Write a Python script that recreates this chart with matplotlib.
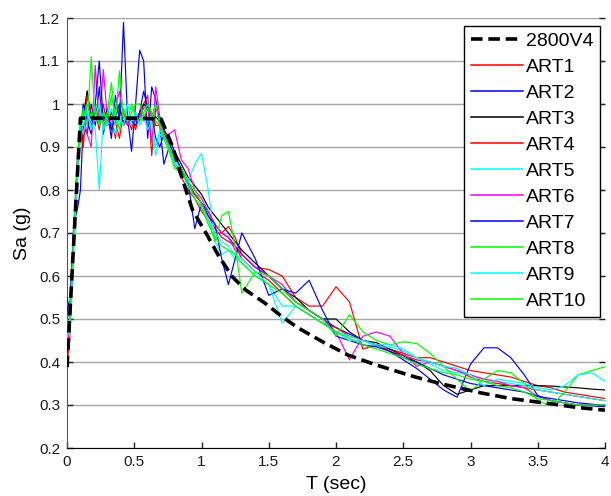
import matplotlib
matplotlib.use("Agg")
import matplotlib.pyplot as plt

plt.rcParams['font.family'] = ['Liberation Sans', 'DejaVu Sans']

# Design spectrum (2800 V4)
T_code = [0, 0.1, 0.3, 0.5, 0.7, 0.786, 0.86, 0.934, 1.033, 1.131, 1.23, 1.33,
          1.476, 1.6, 1.72, 1.9, 2.09, 2.3, 2.59, 2.8, 3.08, 3.3, 3.57, 3.8, 4.0]
Sa_code = [0.388, 0.967, 0.967, 0.967, 0.965, 0.90, 0.823, 0.753, 0.70, 0.645, 0.598, 0.567,
           0.536, 0.505, 0.479, 0.447, 0.416, 0.393, 0.365, 0.348, 0.328, 0.315, 0.304, 0.294, 0.288]

# Common period grid for the artificial records
T = [0, 0.02, 0.05, 0.08, 0.1, 0.12, 0.15, 0.18, 0.21, 0.24, 0.27, 0.3, 0.33, 0.36, 0.39,
     0.42, 0.45, 0.48, 0.51, 0.54, 0.57, 0.6, 0.63, 0.66, 0.69, 0.72, 0.76, 0.8, 0.85, 0.9,
     0.95, 1.0, 1.05, 1.1, 1.15, 1.2, 1.25, 1.3, 1.4, 1.5, 1.6, 1.7, 1.8, 1.9, 2.0, 2.1, 2.2,
     2.3, 2.4, 2.5, 2.6, 2.7, 2.8, 2.9, 3.0, 3.1, 3.2, 3.3, 3.4, 3.5, 3.6, 3.7, 3.8, 3.9, 4.0]

art1 = [0.40, 0.47, 0.70, 0.85, 0.93, 0.90, 1.03, 0.95, 0.98, 0.94, 1.00, 0.95, 0.97, 0.92, 0.99,
        0.95, 0.97, 0.94, 0.98, 0.96, 1.00, 1.02, 0.88, 0.99, 0.97, 0.94, 0.90, 0.86, 0.83, 0.80,
        0.78, 0.75, 0.73, 0.70, 0.70, 0.715, 0.69, 0.65, 0.62, 0.615, 0.60, 0.55, 0.53, 0.53, 0.575,
        0.54, 0.43, 0.44, 0.43, 0.42, 0.41, 0.41, 0.40, 0.39, 0.38, 0.375, 0.37, 0.365, 0.355, 0.345,
        0.34, 0.33, 0.325, 0.32, 0.315]
art2 = [0.53, 0.50, 0.72, 0.76, 0.80, 0.95, 0.93, 1.00, 0.95, 1.04, 0.93, 0.98, 0.92, 1.02, 0.96,
        1.19, 0.97, 0.89, 1.00, 1.125, 1.10, 0.92, 1.04, 1.01, 0.95, 0.86, 0.90, 0.87, 0.85, 0.81,
        0.79, 0.77, 0.75, 0.72, 0.70, 0.69, 0.67, 0.65, 0.62, 0.60, 0.57, 0.54, 0.52, 0.50, 0.48,
        0.465, 0.45, 0.44, 0.425, 0.405, 0.385, 0.36, 0.335, 0.318, 0.395, 0.433, 0.433, 0.41, 0.37, 0.322,
        0.31, 0.305, 0.30, 0.298, 0.296]
art3 = [0.42, 0.48, 0.70, 0.87, 0.94, 0.97, 1.03, 0.96, 0.99, 0.96, 0.97, 0.95, 0.98, 0.96, 0.97,
        0.96, 0.97, 0.97, 0.96, 0.98, 1.00, 0.99, 0.97, 0.97, 0.96, 0.94, 0.92, 0.89, 0.86, 0.83,
        0.81, 0.79, 0.76, 0.74, 0.72, 0.70, 0.68, 0.66, 0.63, 0.60, 0.57, 0.55, 0.52, 0.50, 0.50,
        0.47, 0.45, 0.445, 0.43, 0.415, 0.40, 0.38, 0.345, 0.325, 0.335, 0.345, 0.345, 0.345, 0.345, 0.345,
        0.344, 0.342, 0.34, 0.337, 0.335]
art4 = [0.40, 0.45, 0.68, 0.86, 0.96, 0.90, 1.02, 0.98, 0.96, 0.99, 0.95, 0.97, 0.94, 0.96, 0.92,
        0.98, 0.95, 0.97, 0.94, 0.98, 0.96, 0.99, 0.98, 0.95, 0.95, 0.93, 0.90, 0.86, 0.84, 0.82,
        0.79, 0.77, 0.74, 0.71, 0.69, 0.68, 0.67, 0.64, 0.61, 0.59, 0.56, 0.53, 0.51, 0.49, 0.48,
        0.46, 0.45, 0.44, 0.425, 0.415, 0.405, 0.40, 0.39, 0.38, 0.365, 0.355, 0.35, 0.345, 0.34, 0.335,
        0.33, 0.325, 0.32, 0.315, 0.31]
art5 = [0.45, 0.50, 0.70, 0.86, 0.95, 0.93, 0.98, 0.96, 0.94, 0.80, 0.97, 0.95, 0.97, 0.93, 0.96,
        0.99, 0.97, 0.95, 0.98, 0.97, 0.96, 0.97, 0.95, 0.88, 0.93, 0.92, 0.90, 0.87, 0.85, 0.82,
        0.86, 0.885, 0.80, 0.68, 0.65, 0.66, 0.64, 0.63, 0.60, 0.58, 0.53, 0.53, 0.51, 0.49, 0.47,
        0.46, 0.45, 0.435, 0.435, 0.425, 0.41, 0.395, 0.38, 0.375, 0.37, 0.36, 0.355, 0.35, 0.345, 0.335,
        0.33, 0.325, 0.32, 0.315, 0.31]
art6 = [0.43, 0.48, 0.72, 0.89, 0.94, 0.98, 0.93, 0.90, 1.09, 0.95, 1.08, 0.97, 0.95, 0.99, 1.03,
        0.97, 0.95, 0.97, 0.96, 0.97, 0.99, 1.00, 0.91, 1.04, 0.97, 0.93, 0.93, 0.94, 0.87, 0.85,
        0.80, 0.78, 0.75, 0.72, 0.70, 0.69, 0.66, 0.65, 0.62, 0.60, 0.58, 0.54, 0.52, 0.50, 0.47,
        0.405, 0.46, 0.47, 0.46, 0.42, 0.39, 0.40, 0.39, 0.38, 0.37, 0.36, 0.355, 0.345, 0.34, 0.32,
        0.31, 0.305, 0.30, 0.30, 0.30]
art7 = [0.55, 0.52, 0.70, 0.88, 0.93, 1.00, 0.96, 0.93, 1.00, 1.10, 0.96, 0.99, 0.94, 0.97, 1.00,
        0.95, 0.97, 0.96, 0.95, 0.98, 1.03, 0.99, 0.97, 0.92, 0.90, 0.93, 0.91, 0.88, 0.85, 0.82,
        0.71, 0.77, 0.74, 0.72, 0.64, 0.58, 0.64, 0.70, 0.64, 0.555, 0.57, 0.56, 0.59, 0.52, 0.46,
        0.45, 0.44, 0.435, 0.425, 0.41, 0.40, 0.385, 0.37, 0.36, 0.35, 0.345, 0.34, 0.335, 0.33, 0.32,
        0.315, 0.31, 0.305, 0.302, 0.298]
art8 = [0.50, 0.47, 0.66, 0.85, 0.93, 0.99, 0.95, 1.11, 0.96, 1.00, 0.94, 0.98, 1.05, 0.96, 1.077,
        0.97, 0.96, 0.98, 1.00, 1.00, 0.97, 0.99, 0.97, 1.00, 0.95, 0.93, 0.90, 0.86, 0.85, 0.82,
        0.80, 0.77, 0.73, 0.68, 0.74, 0.75, 0.67, 0.56, 0.61, 0.60, 0.57, 0.54, 0.52, 0.50, 0.46,
        0.51, 0.47, 0.45, 0.44, 0.447, 0.443, 0.42, 0.39, 0.36, 0.332, 0.36, 0.38, 0.375, 0.35, 0.31,
        0.298, 0.33, 0.37, 0.38, 0.389]
art9 = [0.48, 0.46, 0.69, 0.87, 0.96, 0.95, 0.99, 0.94, 0.97, 1.00, 0.94, 0.96, 0.99, 0.95, 0.97,
        0.95, 1.00, 0.96, 0.98, 0.95, 0.97, 0.94, 0.96, 0.90, 0.94, 0.92, 0.89, 0.86, 0.84, 0.81,
        0.78, 0.76, 0.73, 0.70, 0.68, 0.67, 0.65, 0.64, 0.61, 0.58, 0.49, 0.53, 0.51, 0.49, 0.47,
        0.45, 0.45, 0.44, 0.44, 0.43, 0.41, 0.40, 0.39, 0.385, 0.37, 0.345, 0.36, 0.355, 0.35, 0.34,
        0.335, 0.345, 0.37, 0.375, 0.355]
art10 = [0.49, 0.48, 0.70, 0.88, 0.95, 0.97, 1.00, 0.97, 0.99, 0.95, 0.98, 0.96, 1.02, 0.97, 0.94,
         0.99, 0.96, 1.00, 0.97, 0.96, 0.98, 1.00, 0.98, 0.96, 0.95, 0.92, 0.89, 0.85, 0.84, 0.82,
         0.78, 0.76, 0.72, 0.69, 0.67, 0.66, 0.65, 0.63, 0.60, 0.58, 0.56, 0.53, 0.51, 0.49, 0.47,
         0.455, 0.44, 0.43, 0.42, 0.41, 0.395, 0.385, 0.375, 0.37, 0.36, 0.355, 0.345, 0.34, 0.33, 0.315,
         0.31, 0.305, 0.30, 0.30, 0.30]

series = [art1, art2, art3, art4, art5, art6, art7, art8, art9, art10]
names = ['ART1', 'ART2', 'ART3', 'ART4', 'ART5', 'ART6', 'ART7', 'ART8', 'ART9', 'ART10']
colors = ['#ff0000', '#0000ff', '#000000', '#ff0000', '#00ffff',
          '#ff00ff', '#0000ff', '#00ff00', '#00ffff', '#00ff00']

xticks = [0, 0.5, 1, 1.5, 2, 2.5, 3, 3.5, 4]
xticklabels = ['0', '0.5', '1', '1.5', '2', '2.5', '3', '3.5', '4']
yticks = [0.2, 0.3, 0.4, 0.5, 0.6, 0.7, 0.8, 0.9, 1.0, 1.1, 1.2]
yticklabels = ['0.2', '0.3', '0.4', '0.5', '0.6', '0.7', '0.8', '0.9', '1', '1.1', '1.2']

W, H = 611, 496
fig = plt.figure(figsize=(W / 100, H / 100), dpi=100)
ax = fig.add_axes([67 / W, 48 / H, 538 / W, 430 / H])

handles = []
h, = ax.plot(T_code, Sa_code, color='black', lw=2.6, linestyle=(0, (3.2, 1.6)),
             zorder=4, label='2800V4', dash_capstyle='butt')
handles.append(h)
for s, n, c in zip(series, names, colors):
    h, = ax.plot(T, s, color=c, lw=0.85, label=n, zorder=3)
    handles.append(h)

ax.set_xlim(0, 4)
ax.set_ylim(0.2, 1.2)
ax.set_xticks(xticks)
ax.set_xticklabels(xticklabels)
ax.set_yticks(yticks)
ax.set_yticklabels(yticklabels)
ax.yaxis.grid(True, color='#a6a6a6', lw=1.0, zorder=0)
ax.set_axisbelow(True)

for side in ['top', 'right']:
    ax.spines[side].set_visible(False)
ax.spines['left'].set_color('#555555')
ax.spines['bottom'].set_color('black')
ax.tick_params(axis='both', direction='in', labelsize=11, length=4, width=1, pad=5,
               colors='#222222', labelcolor='#1a1a1a')
ax.tick_params(axis='y', right=True)

ax.set_xlabel('T (sec)', fontsize=14, labelpad=5)
ax.set_ylabel('Sa (g)', fontsize=14, labelpad=6)

leg = ax.legend(handles=handles, loc='upper right', fontsize=14, frameon=True,
                fancybox=False, edgecolor='black', framealpha=1, handlelength=2.65,
                handletextpad=0.15, labelspacing=0.43, borderpad=0.35,
                borderaxespad=0, bbox_to_anchor=(600 / W, 1 - 25.7 / H),
                bbox_transform=fig.transFigure)
leg.get_frame().set_linewidth(1.0)
for lh in leg.get_lines()[1:]:
    lh.set_linewidth(1.1)

fig.savefig('out.png', dpi=100)
